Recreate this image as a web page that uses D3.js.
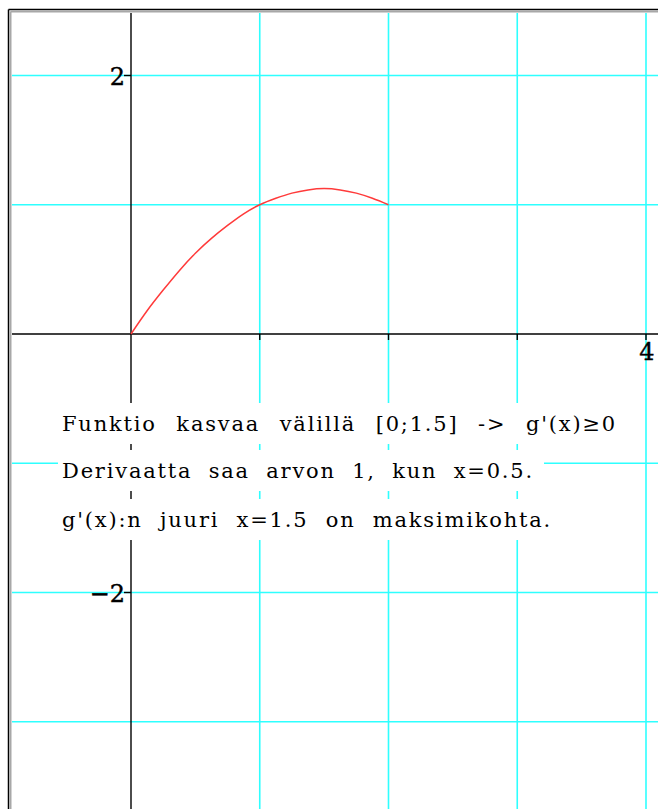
<html>
<head>
	<meta http-equiv="Content-Type" content="text/html; charset=utf-8" />
	<script src="https://cdn.jsdelivr.net/npm/d3@7/dist/d3.min.js" charset="utf-8"></script>
	<style type="text/css">
	body {
	  margin: 0;
	  background-color: white;
	}
	text {
	  font-family: "DejaVu Serif", "Liberation Serif", "Noto Serif", serif;
	}
	</style>
</head>
<body>

	<svg width="658" height="809" version="1.1" xmlns="http://www.w3.org/2000/svg"></svg>

	<script type="text/javascript">
		// curve g(x)
		var v_CurveX     = [0 ,0.125 ,0.25 ,0.375 ,0.5 ,0.625 ,0.75 ,0.875 ,1 ,1.125 ,1.25 ,1.375 ,1.5 ,1.625 ,1.75 ,1.875 ,2];
		var v_CurveY     = [0 ,0.18 ,0.34 ,0.49 ,0.625 ,0.74 ,0.84 ,0.93 ,1.0 ,1.05 ,1.09 ,1.115 ,1.125 ,1.115 ,1.09 ,1.05 ,1.0];
		var v_GridX      = [1 ,2 ,3 ,4];
		var v_GridY      = [-3 ,-2 ,-1 ,1 ,2];
		var v_TickX      = [1 ,2 ,3 ,4];
		var v_TickY      = [-2 ,2];
		var v_LabelX     = [4];
		var v_LabelY     = [-2 ,2];
		var v_TextLines  = ["Funktio kasvaa välillä [0;1.5] -> g'(x)≥0",
		                    "Derivaatta saa arvon 1, kun x=0.5.",
		                    "g'(x):n juuri x=1.5 on maksimikohta."];
		var v_TextWidths = [555 ,472 ,490];

		var v_SVG    = d3.select("svg");
		var v_Left   = 12;
		var v_Top    = 13;
		var v_W      = 658;
		var v_H      = 809;

		var v_xScale = d3.scaleLinear().domain([0 ,4]).range([131 ,646]);
		var v_yScale = d3.scaleLinear().domain([0 ,2]).range([334 ,75.5]);

		// window frame
		v_SVG.append("line").attr("x1" ,8.5).attr("y1" ,9.5).attr("x2" ,8.5).attr("y2" ,v_H)
		     .attr("stroke" ,"black").attr("stroke-width" ,1.5);
		v_SVG.append("line").attr("x1" ,8.5).attr("y1" ,9.5).attr("x2" ,v_W).attr("y2" ,9.5)
		     .attr("stroke" ,"black").attr("stroke-width" ,1.5);
		v_SVG.append("line").attr("x1" ,10.5).attr("y1" ,11.5).attr("x2" ,10.5).attr("y2" ,v_H)
		     .attr("stroke" ,"#a8a8a8").attr("stroke-width" ,2);
		v_SVG.append("line").attr("x1" ,10.5).attr("y1" ,11.5).attr("x2" ,v_W).attr("y2" ,11.5)
		     .attr("stroke" ,"#a8a8a8").attr("stroke-width" ,2);

		v_SVG.append("clipPath").attr("id" ,"plotClip")
		     .append("rect").attr("x" ,v_Left).attr("y" ,v_Top)
		     .attr("width" ,v_W - v_Left).attr("height" ,v_H - v_Top);

		var v_Plot = v_SVG.append("g").attr("clip-path" ,"url(#plotClip)");

		// grid
		v_Plot.selectAll(".gridX").data(v_GridX).enter().append("line")
		      .attr("x1" ,function(d){ return v_xScale(d); })
		      .attr("x2" ,function(d){ return v_xScale(d); })
		      .attr("y1" ,v_Top).attr("y2" ,v_H)
		      .attr("stroke" ,"#2effff").attr("stroke-width" ,1.6);
		v_Plot.selectAll(".gridY").data(v_GridY).enter().append("line")
		      .attr("y1" ,function(d){ return v_yScale(d); })
		      .attr("y2" ,function(d){ return v_yScale(d); })
		      .attr("x1" ,v_Left).attr("x2" ,v_W)
		      .attr("stroke" ,"#2effff").attr("stroke-width" ,1.6);

		// axes
		v_Plot.append("line").attr("x1" ,v_Left).attr("x2" ,v_W)
		      .attr("y1" ,v_yScale(0)).attr("y2" ,v_yScale(0))
		      .attr("stroke" ,"black").attr("stroke-width" ,1.4);
		v_Plot.append("line").attr("x1" ,v_xScale(0)).attr("x2" ,v_xScale(0))
		      .attr("y1" ,v_Top).attr("y2" ,v_H)
		      .attr("stroke" ,"black").attr("stroke-width" ,1.4);

		v_Plot.selectAll(".tickX").data(v_TickX).enter().append("line")
		      .attr("x1" ,function(d){ return v_xScale(d); })
		      .attr("x2" ,function(d){ return v_xScale(d); })
		      .attr("y1" ,v_yScale(0)).attr("y2" ,v_yScale(0) + 6)
		      .attr("stroke" ,"black").attr("stroke-width" ,1.4);
		v_Plot.selectAll(".tickY").data(v_TickY).enter().append("line")
		      .attr("y1" ,function(d){ return v_yScale(d); })
		      .attr("y2" ,function(d){ return v_yScale(d); })
		      .attr("x1" ,v_xScale(0) - 7).attr("x2" ,v_xScale(0))
		      .attr("stroke" ,"black").attr("stroke-width" ,1.4);

		v_Plot.selectAll(".labelX").data(v_LabelX).enter().append("text")
		      .attr("x" ,function(d){ return v_xScale(d) + 1; })
		      .attr("y" ,v_yScale(0) + 26)
		      .attr("text-anchor" ,"middle")
		      .attr("font-size" ,"24px")
		      .attr("fill" ,"black").attr("stroke" ,"black").attr("stroke-width" ,0.4)
		      .text(function(d){ return d; });
		v_Plot.selectAll(".labelY").data(v_LabelY).enter().append("text")
		      .attr("x" ,v_xScale(0) - 6)
		      .attr("y" ,function(d){ return v_yScale(d) + 9; })
		      .attr("text-anchor" ,"end")
		      .attr("font-size" ,"24px")
		      .attr("fill" ,"black").attr("stroke" ,"black").attr("stroke-width" ,0.4)
		      .text(function(d){ return d < 0 ? "\u2212" + (-d) : d; });

		// curve
		var v_Line = d3.line()
		               .x(function(d ,i){ return v_xScale(v_CurveX[i]); })
		               .y(function(d){ return v_yScale(d); })
		               .curve(d3.curveNatural);
		v_Plot.append("path").datum(v_CurveY)
		      .attr("d" ,v_Line)
		      .attr("fill" ,"none")
		      .attr("stroke" ,"#ff3a3a").attr("stroke-width" ,1.5);

		// text rows with white background, word spacing stretched to the row width
		var v_Baselines = [431 ,478 ,527];
		var v_TextX     = 62;
		v_TextLines.forEach(function(s ,i)
		{
			var v_G = v_Plot.append("g");
			v_G.append("rect")
			   .attr("x" ,v_TextX - 4).attr("y" ,v_Baselines[i] - 28)
			   .attr("width" ,v_TextWidths[i] + 14).attr("height" ,41)
			   .attr("fill" ,"white");
			var v_Text = v_G.append("text")
			   .attr("x" ,v_TextX).attr("y" ,v_Baselines[i])
			   .attr("font-size" ,"21px")
			   .attr("letter-spacing" ,"1.8px")
			   .attr("fill" ,"black")
			   .text(s);
			var v_Natural = v_Text.node().getComputedTextLength();
			var v_Spaces  = s.split(" ").length - 1;
			var v_Extra   = (v_TextWidths[i] - v_Natural) / v_Spaces;
			if ( v_Extra > 0 )
			{
				v_Text.attr("word-spacing" ,v_Extra + "px");
			}
			else
			{
				v_Text.attr("textLength" ,v_TextWidths[i]).attr("lengthAdjust" ,"spacingAndGlyphs");
			}
		});
	</script>

</body>
</html>
